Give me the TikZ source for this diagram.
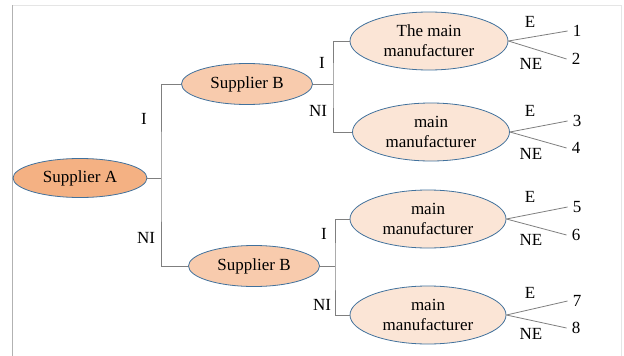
\documentclass[tikz,border=0pt]{standalone}
\usepackage{fontspec}
\setmainfont{Liberation Serif}
\usetikzlibrary{shapes.geometric}
\definecolor{fillA}{HTML}{F4B183}
\definecolor{fillB}{HTML}{F8CBAD}
\definecolor{fillM}{HTML}{FBE5D6}
\definecolor{rim}{HTML}{41719C}
\definecolor{wire}{HTML}{7F7F7F}

\begin{document}
\begin{tikzpicture}[x=1pt,y=-1pt,font=\fontsize{17}{20}\selectfont,
		player/.style={ellipse,draw=rim,line width=.8pt,inner sep=0pt,align=center},
		branch/.style={draw=wire,line width=.8pt}]
			\useasboundingbox (0,0) rectangle (624,356);
			\draw[gray!20,line width=1pt] (12,5) -- (621,5) -- (621,356);
			\draw[gray!60,line width=1pt] (12,5) -- (12,356);

			% players
			\node[player,fill=fillA,minimum width=134,minimum height=39] (A) at (80,178) {Supplier A};
			\node[player,fill=fillB,minimum width=131,minimum height=41] (B1) at (247,84) {Supplier B};
			\node[player,fill=fillB,minimum width=131,minimum height=41] (B2) at (254,266) {Supplier B};
			\node[player,fill=fillM,minimum width=158,minimum height=58] (M1) at (429,41) {The main\\manufacturer};
			\node[player,fill=fillM,minimum width=157,minimum height=58] (M2) at (431,132) {main\\manufacturer};
			\node[player,fill=fillM,minimum width=156,minimum height=58] (M3) at (428,219) {main\\manufacturer};
			\node[player,fill=fillM,minimum width=156,minimum height=58] (M4) at (428,315) {main\\manufacturer};

			% branches
			\draw[branch] (A.east) -- (161,178) coordinate (jA);
			\draw[branch] (B1.west) -| (jA) |- (B2.west);
			\draw[branch] (B1.east) -- (333,84) coordinate (jB1);
			\draw[branch] (M1.west) -| (jB1) |- (M2.west);
			\draw[branch] (B2.east) -- (335,266) coordinate (jB2);
			\draw[branch] (M3.west) -| (jB2) |- (M4.west);

			\node (iA) at (144,119) {I};
			\node (niA) at (146,238) {NI};
			\node (iB1) at (322,63) {I};
			\node (niB1) at (318,111) {NI};
			\node (iB2) at (324,234) {I};
			\node (niB2) at (322,305) {NI};

			% outcomes
			\foreach \m/\a/\b/\ya/\yb/\ye/\yn in {M1/1/2/31/59/22/64, M2/3/4/121/148/111/154, M3/5/6/207/235/197/240, M4/7/8/301/328/293/334} {
				\node[inner sep=5pt] (o\a) at (577,\ya) {\a};
				\node[inner sep=5pt] (o\b) at (576,\yb) {\b};
				\draw[branch] (\m.east) -- (o\a.west);
				\draw[branch] (\m.east) -- (o\b.west);
				\node (e\a) at (530,\ye) {E};
				\node (ne\a) at (531,\yn) {NE};
			}
		\end{tikzpicture}
\end{document}
